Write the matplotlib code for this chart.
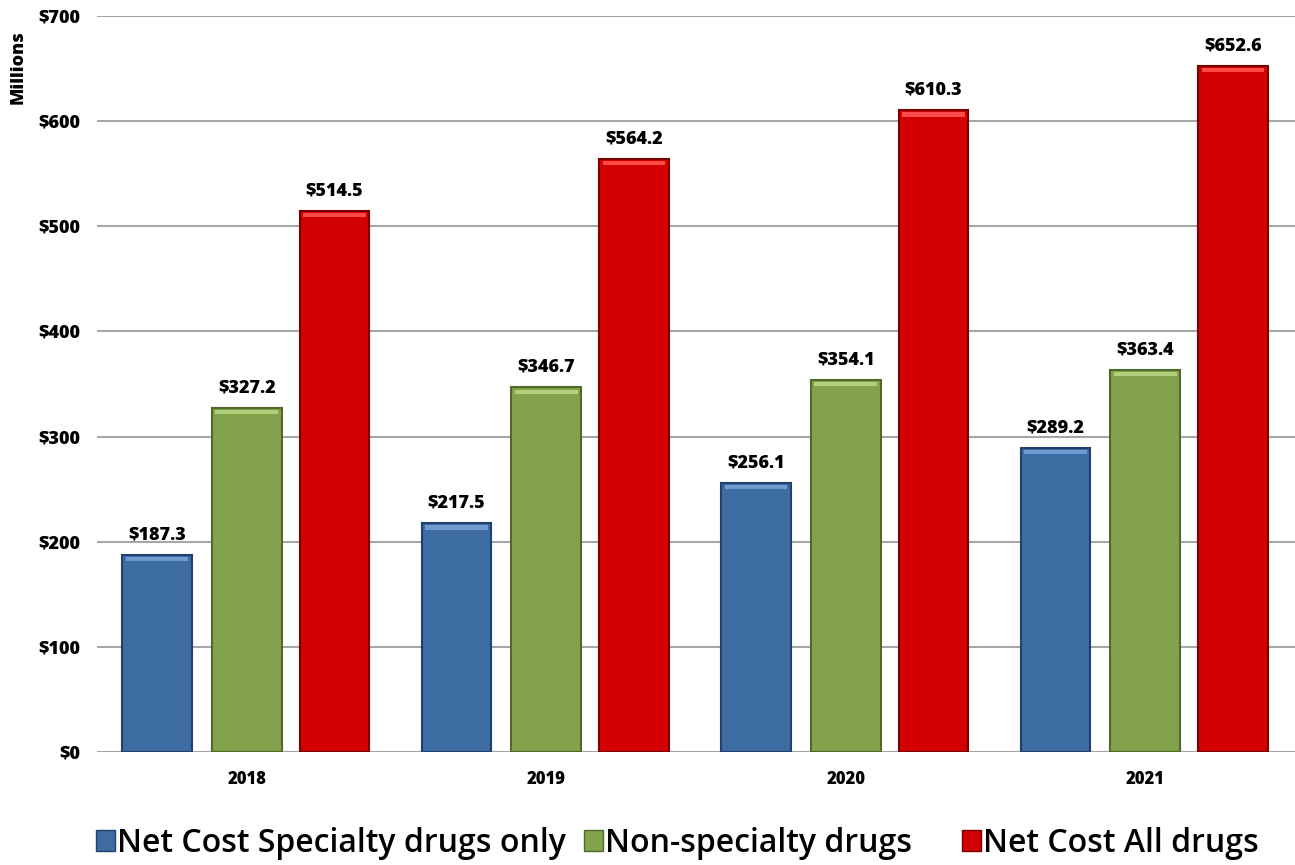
import matplotlib
matplotlib.use('Agg')
import matplotlib.pyplot as plt
from matplotlib.patches import Patch
import numpy as np

years = ['2018', '2019', '2020', '2021']
specialty = [187.3, 217.5, 256.1, 289.2]
non_specialty = [327.2, 346.7, 354.1, 363.4]
all_drugs = [514.5, 564.2, 610.3, 652.6]
series_names = ['Net Cost Specialty drugs only', 'Non-specialty drugs', 'Net Cost All drugs']

plt.rcParams['font.family'] = ['Open Sans', 'DejaVu Sans']

fig = plt.figure(figsize=(12.95, 8.65), dpi=100)
ax = fig.add_axes([0.075, 0.1306, 0.925, 0.8509])

x = np.arange(len(years))
width = 0.233
offsets = [-0.3, 0.0, 0.293]
faces = ['#3d6ca3', '#82a24b', '#d20000']
edges = ['#22406a', '#4f6a2a', '#7a0000']
tops = ['#6f9bd0', '#b2cf7e', '#ff4a4a']

for vals, off, fc, ec, tc in zip([specialty, non_specialty, all_drugs], offsets, faces, edges, tops):
    ax.bar(x + off, vals, width, color=fc, edgecolor=ec, linewidth=1.5, zorder=3)
    # light rim along the top of each bar
    ax.bar(x + off, [4] * len(vals), width * 0.9, bottom=np.array(vals) - 6,
           color=tc, linewidth=0, zorder=4)
    for xi, v in zip(x + off, vals):
        ax.text(xi, v + 11, '$%.1f' % v, ha='center', va='bottom',
                fontsize=13, fontweight=800, zorder=5)

ax.set_xlim(-0.5, 3.5)
ax.set_ylim(0, 700)
ax.set_yticks(np.arange(0, 701, 100))
ax.set_yticklabels(['$%d' % t for t in range(0, 701, 100)], fontsize=13, fontweight=800)
ax.set_xticks(x)
ax.set_xticklabels(years, fontsize=12, fontweight=800)
ax.tick_params(length=0)
ax.tick_params(axis='x', pad=14)
ax.tick_params(axis='y', pad=12)
ax.yaxis.grid(True, color='#a6a6a6', linewidth=1.5, zorder=0)
ax.set_axisbelow(True)
for s in ax.spines.values():
    s.set_visible(False)

fig.text(0.014, 0.9225, 'Millions', rotation=90, ha='center', va='center',
         fontsize=13, fontweight=800)

# one legend entry per series, laid out along the bottom
legend_x = [0.074, 0.451, 0.743]
for name, fc, ec, lx in zip(series_names, faces, edges, legend_x):
    fig.legend([Patch(facecolor=fc, edgecolor=ec)], [name], loc='lower left',
               bbox_to_anchor=(lx, 0.006), frameon=False, borderpad=0, borderaxespad=0,
               prop={'size': 23, 'weight': 600},
               handlelength=0.6, handleheight=0.6, handletextpad=0.05)

fig.savefig('out.png', dpi=100)
